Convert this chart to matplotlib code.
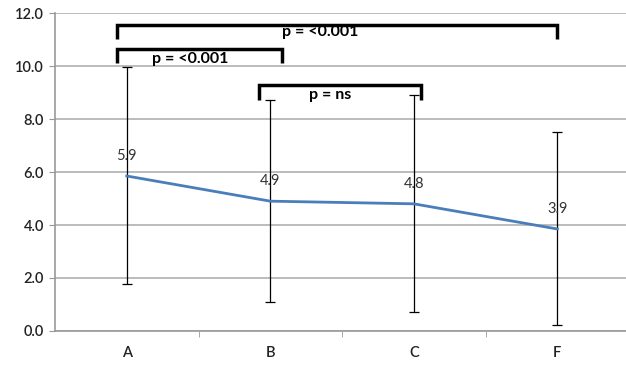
import matplotlib
matplotlib.use("Agg")
import matplotlib.pyplot as plt
import numpy as np

categories = ["A", "B", "C", "F"]
means = [5.85, 4.9, 4.8, 3.85]
labels = ["5.9", "4.9", "4.8", "3.9"]
err_upper = [9.97, 8.72, 8.9, 7.5]
err_lower = [1.76, 1.1, 0.72, 0.21]

# brackets: (x_left, x_right, y_top, y_leg_bottom, text, text_x, text_y)
brackets = [
    (-0.07, 3.0, 11.56, 11.04, "p = <0.001", 1.35, 11.3),
    (-0.07, 1.08, 10.63, 10.1, "p = <0.001", 0.44, 10.25),
    (0.92, 2.05, 9.28, 8.72, "p = ns", 1.42, 8.9),
]

plt.rcParams['font.family'] = ['Lato', 'DejaVu Sans']

fig = plt.figure(figsize=(6.26, 3.65), dpi=100)
ax = fig.add_axes([0.0879, 0.0932, 0.917, 0.871])

x = np.arange(len(categories))
yerr = [np.array(means) - np.array(err_lower), np.array(err_upper) - np.array(means)]
ax.errorbar(x, means, yerr=yerr, fmt='none', ecolor='black', elinewidth=0.9,
            capsize=3.5, capthick=0.9, zorder=3)
ax.plot(x, means, color='#4a7ebb', lw=2.0, zorder=4)

for xi, m, lab in zip(x, means, labels):
    ax.text(xi, m + 0.5, lab, ha='center', va='bottom', fontsize=10.5, color='#333333', zorder=5)

for xl, xr, yt, yb, txt, tx, ty in brackets:
    ax.plot([xl, xl, xr, xr], [yb, yt, yt, yb], color='black', lw=2.5,
            solid_joinstyle='miter', solid_capstyle='butt', zorder=6, clip_on=False)
    ax.text(tx, ty, txt, ha='center', va='center', fontsize=11.5, fontweight='bold',
            color='black', zorder=7)

ax.set_xlim(-0.5, 3.5)
ax.set_ylim(0, 12)
ax.set_yticks(np.arange(0, 12.1, 2))
ax.set_yticklabels([f"{v:.1f}" for v in np.arange(0, 12.1, 2)])
ax.set_xticks(x)
ax.set_xticklabels(categories)
ax.set_xticks(np.arange(0.5, 3.5, 1.0), minor=True)
ax.tick_params(axis='x', which='major', length=0, pad=11, labelsize=10.5, colors='#222222')
ax.tick_params(axis='x', which='minor', length=4, color='#999999', direction='out')
ax.tick_params(axis='y', length=4, color='#999999', labelsize=10.5, colors='#222222', pad=4)
for lab in ax.get_yticklabels() + ax.get_xticklabels():
    lab.set_color('#222222')
    lab.set_fontweight('semibold')
ax.yaxis.grid(True, color='#b0b0b0', lw=1.2)
ax.set_axisbelow(True)
for s in ['top', 'right']:
    ax.spines[s].set_visible(False)
ax.spines['left'].set_color('#999999')
ax.spines['bottom'].set_color('#999999')
ax.spines['left'].set_linewidth(1.2)
ax.spines['bottom'].set_linewidth(1.2)

fig.savefig("out.png", dpi=100)
